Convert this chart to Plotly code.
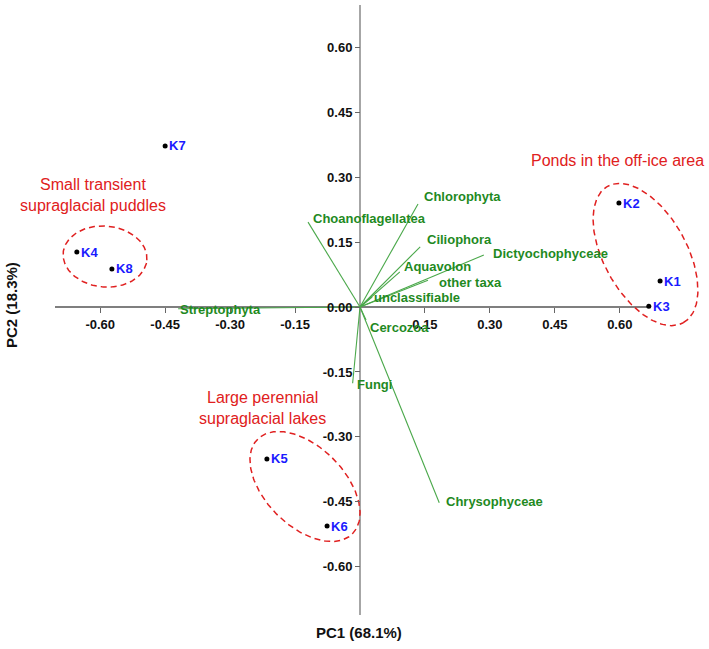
import numpy as np
import plotly.graph_objects as go

# ---------------- data ----------------
samples = ["K1", "K2", "K3", "K4", "K5", "K6", "K7", "K8"]
pc1_samples = [0.693, 0.598, 0.667, -0.654, -0.215, -0.076, -0.450, -0.573]
pc2_samples = [0.060, 0.240, 0.002, 0.127, -0.351, -0.506, 0.372, 0.088]

taxa = ["Chlorophyta", "Choanoflagellatea", "Ciliophora", "Dictyochophyceae",
        "Aquavolon", "other taxa", "unclassifiable", "Streptophyta",
        "Cercozoa", "Fungi", "Chrysophyceae"]
pc1_taxa = [0.134, -0.120, 0.139, 0.286, 0.092, 0.157, 0.028, -0.420, 0.014, -0.017, 0.183]
pc2_taxa = [0.238, 0.196, 0.139, 0.120, 0.081, 0.062, 0.023, -0.004, -0.030, -0.176, -0.452]

tick_vals_x = [-0.60, -0.45, -0.30, -0.15, 0.15, 0.30, 0.45, 0.60]
tick_vals_y = [-0.60, -0.45, -0.30, -0.15, 0.00, 0.15, 0.30, 0.45, 0.60]

x_title = "PC1 (68.1%)"
y_title = "PC2 (18.3%)"

# ---------------- style / layout ----------------
W, H = 709, 649
X0PX, Y0PX, SCALE = 360, 307, 433.0   # origin pixel and px per unit
x_range = [-X0PX / SCALE, (W - X0PX) / SCALE]
y_range = [-(H - Y0PX) / SCALE, Y0PX / SCALE]


def px(xp, yp):
    """pixel position -> data coordinates (for decorations only)"""
    return (xp - X0PX) / SCALE, (Y0PX - yp) / SCALE


FONT = "Arial, Liberation Sans, sans-serif"
LINE_GREEN = "#4aa84a"
TEXT_GREEN = "#1f8a1f"
BLUE = "#1a1aff"
RED = "#e02020"

# label offsets (pixels) for taxa labels: (xshift, yshift)
taxa_offsets = [(4, 7), (3, 4), (5, 7), (7, 2), (2, 5), (9, -2), (0, 0),
                (0, -1), (2, -8), (2, -1), (5, 1)]

fig = go.Figure()

# taxa vectors
vx, vy = [], []
for x, y in zip(pc1_taxa, pc2_taxa):
    vx += [0, x, None]
    vy += [0, y, None]
fig.add_trace(go.Scatter(x=vx, y=vy, mode="lines",
                         line=dict(color=LINE_GREEN, width=1.1),
                         hoverinfo="skip", showlegend=False))

# ellipses (center in pixels, semi-axes in pixels, angle deg)
ellipses = [
    ((645.5, 254.5), 78, 41.5, -61),
    ((105, 256.5), 42, 30.5, -5),
    ((305, 486.5), 67, 39.6, -45),
]
t = np.linspace(0, 2 * np.pi, 200)
for (cxp, cyp), a, b, ang in ellipses:
    cx, cy = px(cxp, cyp)
    a_ = a / SCALE
    b_ = b / SCALE
    th = np.deg2rad(ang)
    ex = cx + a_ * np.cos(t) * np.cos(th) - b_ * np.sin(t) * np.sin(th)
    ey = cy + a_ * np.cos(t) * np.sin(th) + b_ * np.sin(t) * np.cos(th)
    fig.add_trace(go.Scatter(x=ex, y=ey, mode="lines",
                             line=dict(color=RED, width=1.5, dash="6px,4px"),
                             hoverinfo="skip", showlegend=False))

# sample points
fig.add_trace(go.Scatter(x=pc1_samples, y=pc2_samples, mode="markers",
                         marker=dict(color="black", size=5),
                         hoverinfo="text", text=samples, showlegend=False))

annotations = []
for name, x, y in zip(samples, pc1_samples, pc2_samples):
    annotations.append(dict(x=x, y=y, text=name, showarrow=False,
                            xanchor="left", yanchor="middle", xshift=2,
                            font=dict(family=FONT, size=13, color=BLUE, weight="bold")))

for name, x, y, (dx, dy) in zip(taxa, pc1_taxa, pc2_taxa, taxa_offsets):
    annotations.append(dict(x=x, y=y, text=name, showarrow=False,
                            xanchor="left", yanchor="middle", xshift=dx, yshift=dy,
                            font=dict(family=FONT, size=13, color=TEXT_GREEN, weight="bold")))

# group labels
groups = [
    ("Small transient<br>supraglacial puddles", (93, 195)),
    ("Ponds in the off-ice area", (617, 160)),
    ("Large perennial<br>supraglacial lakes", (262, 408)),
]
for txt, (xp, yp) in groups:
    gx, gy = px(xp, yp)
    annotations.append(dict(x=gx, y=gy, text=txt, showarrow=False,
                            xanchor="center", yanchor="middle", align="center",
                            font=dict(family=FONT, size=16, color=RED)))

# axis titles
annotations.append(dict(x=359 / W, y=1 - 632 / H, xref="paper", yref="paper",
                        xanchor="center", yanchor="middle",
                        text=x_title, showarrow=False,
                        font=dict(family=FONT, size=15, color="#111", weight="bold")))
annotations.append(dict(x=11 / W, y=1 - 305 / H, xref="paper", yref="paper",
                        xanchor="center", yanchor="middle",
                        text=y_title, showarrow=False, textangle=-90,
                        font=dict(family=FONT, size=15, color="#111", weight="bold")))

# axis lines
hx0, _ = px(55, 0)
hx1, _ = px(649, 0)
_, vy0 = px(0, 5)
_, vy1 = px(0, 615)
shapes = [
    dict(type="line", x0=hx0, x1=hx1, y0=0, y1=0, line=dict(color="#555", width=1.5), layer="below"),
    dict(type="line", x0=0, x1=0, y0=vy0, y1=vy1, line=dict(color="#888", width=1.5), layer="below"),
]

xpos = (0 - y_range[0]) / (y_range[1] - y_range[0])
ypos = (0 - x_range[0]) / (x_range[1] - x_range[0])

tickfont = dict(family=FONT, size=13, color="#111", weight="bold")
fig.update_layout(
    width=W, height=H, template="none",
    margin=dict(l=0, r=0, t=0, b=0),
    paper_bgcolor="white", plot_bgcolor="white",
    showlegend=False,
    xaxis=dict(range=x_range, tickvals=tick_vals_x,
               ticktext=[f"{v:.2f}" for v in tick_vals_x],
               anchor="free", position=xpos, showgrid=False, zeroline=False,
               showline=False, ticks="outside", ticklen=5, tickcolor="#666",
               tickfont=tickfont, automargin=False, fixedrange=True),
    yaxis=dict(range=y_range, tickvals=tick_vals_y,
               ticktext=[f"{v:.2f}" for v in tick_vals_y],
               anchor="free", position=ypos, showgrid=False, zeroline=False,
               showline=False, ticks="outside", ticklen=5, tickcolor="#666",
               tickfont=tickfont, automargin=False, fixedrange=True),
    annotations=annotations,
    shapes=shapes,
)

fig.write_html("out.html")
